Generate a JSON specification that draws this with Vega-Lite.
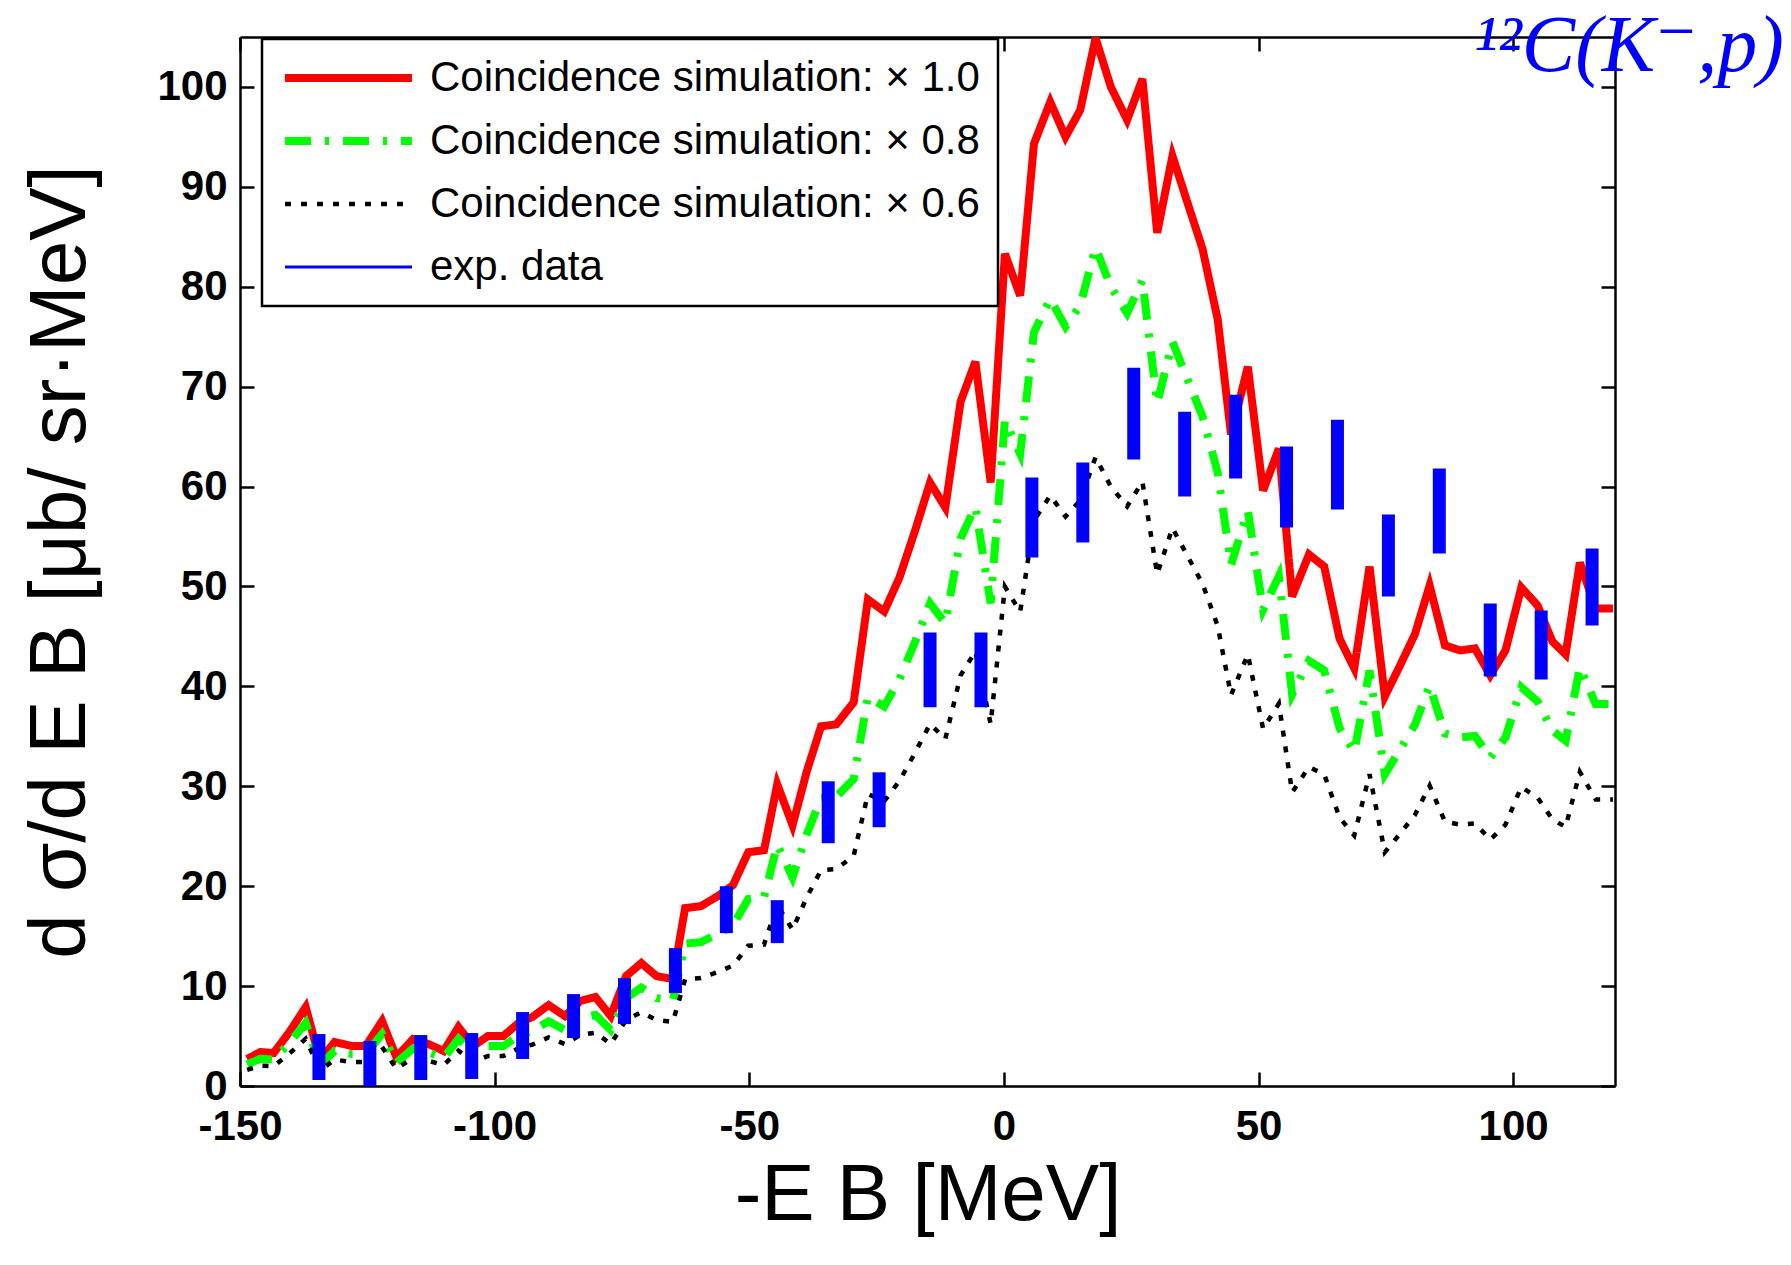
{
  "$schema": "https://vega.github.io/schema/vega-lite/v6.json",
  "width": 1375,
  "height": 1049,
  "autosize": {"type": "none"},
  "padding": {"left": 240, "top": 37, "right": 176, "bottom": 179},
  "background": "white",
  "config": {
    "view": {"stroke": null},
    "font": "Liberation Sans",
    "legend": {
      "fillColor": "white",
      "strokeColor": "black",
      "strokeWidth": 2.5,
      "cornerRadius": 0,
      "padding": 18,
      "symbolType": "stroke",
      "symbolSize": 16129,
      "symbolOffset": 1,
      "clipHeight": 42,
      "rowPadding": 21,
      "labelOffset": 14,
      "labelFont": "Liberation Sans",
      "labelFontSize": 42,
      "labelFontWeight": "normal",
      "labelColor": "black",
      "labelLimit": 1000,
      "labelBaseline": "middle"
    }
  },
  "title": {
    "text": "¹²C(K⁻,p)",
    "orient": "top",
    "anchor": "end",
    "frame": "group",
    "offset": -74,
    "baseline": "alphabetic",
    "dx": 169,
    "dy": 41,
    "font": "Liberation Serif, DejaVu Serif",
    "fontStyle": "italic",
    "fontWeight": "normal",
    "fontSize": 80,
    "color": "#0000ff"
  },
  "datasets": {
    "sim": [
      {"x": -148.6, "s10": 2.7, "s08": 2.16, "s06": 1.62},
      {"x": -146.0, "s10": 3.4, "s08": 2.72, "s06": 2.04},
      {"x": -143.4, "s10": 3.3, "s08": 2.64, "s06": 1.98},
      {"x": -140.3, "s10": 5.4, "s08": 4.32, "s06": 3.24},
      {"x": -137.1, "s10": 7.9, "s08": 6.32, "s06": 4.74},
      {"x": -134.3, "s10": 2.6, "s08": 2.08, "s06": 1.56},
      {"x": -131.4, "s10": 4.4, "s08": 3.52, "s06": 2.64},
      {"x": -128.0, "s10": 4.0, "s08": 3.2, "s06": 2.4},
      {"x": -125.3, "s10": 4.0, "s08": 3.2, "s06": 2.4},
      {"x": -122.1, "s10": 6.5, "s08": 5.2, "s06": 3.9},
      {"x": -119.3, "s10": 2.9, "s08": 2.32, "s06": 1.74},
      {"x": -116.0, "s10": 4.7, "s08": 3.76, "s06": 2.82},
      {"x": -113.0, "s10": 4.2, "s08": 3.36, "s06": 2.52},
      {"x": -110.0, "s10": 3.5, "s08": 2.8, "s06": 2.1},
      {"x": -107.1, "s10": 5.9, "s08": 4.72, "s06": 3.54},
      {"x": -104.2, "s10": 4.0, "s08": 3.2, "s06": 2.4},
      {"x": -101.3, "s10": 5.0, "s08": 4.0, "s06": 3.0},
      {"x": -98.3, "s10": 5.0, "s08": 4.0, "s06": 3.0},
      {"x": -95.3, "s10": 6.3, "s08": 5.04, "s06": 3.78},
      {"x": -92.6, "s10": 6.9, "s08": 5.52, "s06": 4.14},
      {"x": -89.4, "s10": 8.1, "s08": 6.48, "s06": 4.86},
      {"x": -86.2, "s10": 7.0, "s08": 5.6, "s06": 4.2},
      {"x": -83.2, "s10": 8.5, "s08": 6.8, "s06": 5.1},
      {"x": -80.2, "s10": 8.9, "s08": 7.12, "s06": 5.34},
      {"x": -77.2, "s10": 7.0, "s08": 5.6, "s06": 4.2},
      {"x": -74.2, "s10": 11.0, "s08": 8.8, "s06": 6.6},
      {"x": -71.2, "s10": 12.3, "s08": 9.84, "s06": 7.38},
      {"x": -68.2, "s10": 11.0, "s08": 8.8, "s06": 6.6},
      {"x": -65.0, "s10": 10.7, "s08": 8.56, "s06": 6.42},
      {"x": -62.6, "s10": 17.8, "s08": 14.24, "s06": 10.68},
      {"x": -59.5, "s10": 18.0, "s08": 14.4, "s06": 10.8},
      {"x": -56.2, "s10": 19.0, "s08": 15.2, "s06": 11.4},
      {"x": -53.2, "s10": 20.1, "s08": 16.08, "s06": 12.06},
      {"x": -50.2, "s10": 23.4, "s08": 18.72, "s06": 14.04},
      {"x": -47.1, "s10": 23.6, "s08": 18.88, "s06": 14.16},
      {"x": -44.5, "s10": 30.2, "s08": 24.16, "s06": 18.12},
      {"x": -41.5, "s10": 26.1, "s08": 20.88, "s06": 15.66},
      {"x": -38.7, "s10": 31.5, "s08": 25.2, "s06": 18.9},
      {"x": -35.9, "s10": 36.0, "s08": 28.8, "s06": 21.6},
      {"x": -32.9, "s10": 36.2, "s08": 28.96, "s06": 21.72},
      {"x": -29.5, "s10": 38.4, "s08": 30.72, "s06": 23.04},
      {"x": -26.7, "s10": 48.7, "s08": 38.96, "s06": 29.22},
      {"x": -23.5, "s10": 47.5, "s08": 38.0, "s06": 28.5},
      {"x": -20.5, "s10": 50.9, "s08": 40.72, "s06": 30.54},
      {"x": -17.5, "s10": 55.5, "s08": 44.4, "s06": 33.3},
      {"x": -14.5, "s10": 60.4, "s08": 48.32, "s06": 36.24},
      {"x": -11.5, "s10": 57.9, "s08": 46.32, "s06": 34.74},
      {"x": -8.5, "s10": 68.5, "s08": 54.8, "s06": 41.1},
      {"x": -5.6, "s10": 72.5, "s08": 58.0, "s06": 43.5},
      {"x": -2.6, "s10": 60.4, "s08": 48.32, "s06": 36.24},
      {"x": 0.2, "s10": 83.3, "s08": 66.64, "s06": 49.98},
      {"x": 3.2, "s10": 79.1, "s08": 63.28, "s06": 47.46},
      {"x": 5.9, "s10": 94.3, "s08": 75.44, "s06": 56.58},
      {"x": 9.1, "s10": 98.5, "s08": 78.8, "s06": 59.1},
      {"x": 12.1, "s10": 95.0, "s08": 76.0, "s06": 57.0},
      {"x": 15.0, "s10": 97.7, "s08": 78.16, "s06": 58.62},
      {"x": 18.0, "s10": 104.9, "s08": 83.92, "s06": 62.94},
      {"x": 21.0, "s10": 100.0, "s08": 80.0, "s06": 60.0},
      {"x": 24.2, "s10": 96.7, "s08": 77.36, "s06": 58.02},
      {"x": 27.2, "s10": 100.8, "s08": 80.64, "s06": 60.48},
      {"x": 30.1, "s10": 85.4, "s08": 68.32, "s06": 51.24},
      {"x": 33.1, "s10": 93.1, "s08": 74.48, "s06": 55.86},
      {"x": 36.0, "s10": 88.5, "s08": 70.8, "s06": 53.1},
      {"x": 39.0, "s10": 83.8, "s08": 67.04, "s06": 50.28},
      {"x": 42.0, "s10": 76.7, "s08": 61.36, "s06": 46.02},
      {"x": 44.6, "s10": 65.2, "s08": 52.16, "s06": 39.12},
      {"x": 47.9, "s10": 72.0, "s08": 57.6, "s06": 43.2},
      {"x": 50.9, "s10": 59.6, "s08": 47.68, "s06": 35.76},
      {"x": 54.0, "s10": 63.8, "s08": 51.04, "s06": 38.28},
      {"x": 56.6, "s10": 49.0, "s08": 39.2, "s06": 29.4},
      {"x": 59.9, "s10": 53.2, "s08": 42.56, "s06": 31.92},
      {"x": 62.9, "s10": 52.0, "s08": 41.6, "s06": 31.2},
      {"x": 65.9, "s10": 44.8, "s08": 35.84, "s06": 26.88},
      {"x": 68.8, "s10": 41.8, "s08": 33.44, "s06": 25.08},
      {"x": 71.8, "s10": 52.0, "s08": 41.6, "s06": 31.2},
      {"x": 74.8, "s10": 39.0, "s08": 31.2, "s06": 23.4},
      {"x": 77.7, "s10": 42.0, "s08": 33.6, "s06": 25.2},
      {"x": 80.7, "s10": 45.2, "s08": 36.16, "s06": 27.12},
      {"x": 83.6, "s10": 50.1, "s08": 40.08, "s06": 30.06},
      {"x": 86.6, "s10": 44.1, "s08": 35.28, "s06": 26.46},
      {"x": 89.6, "s10": 43.6, "s08": 34.88, "s06": 26.16},
      {"x": 92.5, "s10": 43.8, "s08": 35.04, "s06": 26.28},
      {"x": 95.5, "s10": 41.1, "s08": 32.88, "s06": 24.66},
      {"x": 98.5, "s10": 43.6, "s08": 34.88, "s06": 26.16},
      {"x": 101.6, "s10": 49.9, "s08": 39.92, "s06": 29.94},
      {"x": 104.8, "s10": 48.1, "s08": 38.48, "s06": 28.86},
      {"x": 107.7, "s10": 44.5, "s08": 35.6, "s06": 26.7},
      {"x": 110.3, "s10": 43.2, "s08": 34.56, "s06": 25.92},
      {"x": 113.1, "s10": 52.4, "s08": 41.92, "s06": 31.44},
      {"x": 116.2, "s10": 47.8, "s08": 38.24, "s06": 28.68},
      {"x": 119.6, "s10": 47.8, "s08": 38.24, "s06": 28.68}
    ],
    "exp": [
      {"x": -134.5, "lo": 0.6, "hi": 5.2},
      {"x": -124.5, "lo": -0.5, "hi": 4.5},
      {"x": -114.5, "lo": 0.6, "hi": 5.1},
      {"x": -104.5, "lo": 0.7, "hi": 5.3},
      {"x": -94.5, "lo": 2.7, "hi": 7.4},
      {"x": -84.5, "lo": 4.8, "hi": 9.2},
      {"x": -74.5, "lo": 6.2, "hi": 10.8},
      {"x": -64.5, "lo": 9.3, "hi": 13.8},
      {"x": -54.5, "lo": 15.3, "hi": 20.0},
      {"x": -44.5, "lo": 14.3, "hi": 18.6},
      {"x": -34.5, "lo": 24.3, "hi": 30.5},
      {"x": -24.5, "lo": 25.9, "hi": 31.4},
      {"x": -14.5, "lo": 37.9, "hi": 45.4},
      {"x": -4.5, "lo": 37.9, "hi": 45.4},
      {"x": 5.5, "lo": 52.9, "hi": 60.9},
      {"x": 15.5, "lo": 54.4, "hi": 62.4},
      {"x": 25.5, "lo": 62.7, "hi": 71.9},
      {"x": 35.5, "lo": 59.0, "hi": 67.5},
      {"x": 45.5, "lo": 60.8, "hi": 69.2},
      {"x": 55.5, "lo": 55.9, "hi": 64.0},
      {"x": 65.5, "lo": 57.7, "hi": 66.7},
      {"x": 75.5, "lo": 49.0, "hi": 57.2},
      {"x": 85.5, "lo": 53.3, "hi": 61.8},
      {"x": 95.5, "lo": 41.0, "hi": 48.3},
      {"x": 105.5, "lo": 40.7, "hi": 47.6},
      {"x": 115.5, "lo": 46.1, "hi": 53.8}
    ]
  },
  "layer": [
    {
      "data": {"name": "sim"},
      "transform": [{"fold": ["s10", "s08", "s06"], "as": ["series", "val"]}],
      "mark": {"type": "line", "clip": true, "strokeCap": "butt"},
      "encoding": {
        "x": {
          "field": "x", "type": "quantitative",
          "scale": {"domain": [-150, 120], "nice": false, "zero": false},
          "axis": {
            "orient": "bottom", "values": [-150, -100, -50, 0, 50, 100],
            "labelExpr": "replace(datum.label, '−', '-')",
            "grid": false, "domain": true, "domainColor": "black", "domainWidth": 2.5,
            "ticks": true, "tickSize": -14, "tickWidth": 2.5, "tickColor": "black",
            "labelFont": "Liberation Sans", "labelFontSize": 42, "labelFontWeight": "bold", "labelColor": "black",
            "labelPadding": 34, "labelFlush": false, "labelOverlap": false,
            "title": "-E B [MeV]", "titleFont": "Liberation Sans", "titleFontSize": 80, "titleFontWeight": "normal",
            "titleColor": "black", "titlePadding": 9
          }
        },
        "y": {
          "field": "val", "type": "quantitative",
          "scale": {"domain": [0, 105], "nice": false, "zero": true},
          "axis": {
            "orient": "left", "values": [0, 10, 20, 30, 40, 50, 60, 70, 80, 90, 100],
            "grid": false, "domain": true, "domainColor": "black", "domainWidth": 2.5,
            "ticks": true, "tickSize": -14, "tickWidth": 2.5, "tickColor": "black",
            "labelFont": "Liberation Sans", "labelFontSize": 42, "labelFontWeight": "bold", "labelColor": "black",
            "labelPadding": 27, "labelFlush": false, "labelOverlap": false,
            "title": "d σ/d E B [μb/ sr·MeV]", "titleFont": "Liberation Sans", "titleFontSize": 80, "titleFontWeight": "normal",
            "titleColor": "black", "titlePadding": 55
          }
        },
        "color": {
          "field": "series", "type": "nominal",
          "scale": {"domain": ["s10", "s08", "s06", "exp"], "range": ["#ff0000", "#00ff00", "#000000", "#0000ff"]},
          "legend": {
            "orient": "none", "legendX": 22, "legendY": 2, "title": null,
            "labelExpr": "datum.value == 's10' ? 'Coincidence simulation: × 1.0' : datum.value == 's08' ? 'Coincidence simulation: × 0.8' : datum.value == 's06' ? 'Coincidence simulation: × 0.6' : 'exp. data'"
          }
        },
        "strokeDash": {
          "field": "series", "type": "nominal",
          "scale": {"domain": ["s10", "s08", "s06", "exp"], "range": [[1, 0], [26, 14, 4, 14], [6, 10], [1, 0]]},
          "legend": {
            "orient": "none", "legendX": 22, "legendY": 2, "title": null,
            "labelExpr": "datum.value == 's10' ? 'Coincidence simulation: × 1.0' : datum.value == 's08' ? 'Coincidence simulation: × 0.8' : datum.value == 's06' ? 'Coincidence simulation: × 0.6' : 'exp. data'"
          }
        },
        "strokeWidth": {
          "field": "series", "type": "nominal",
          "scale": {"type": "ordinal", "domain": ["s10", "s08", "s06", "exp"], "range": [8, 8, 4.5, 3]},
          "legend": {
            "orient": "none", "legendX": 22, "legendY": 2, "title": null,
            "labelExpr": "datum.value == 's10' ? 'Coincidence simulation: × 1.0' : datum.value == 's08' ? 'Coincidence simulation: × 0.8' : datum.value == 's06' ? 'Coincidence simulation: × 0.6' : 'exp. data'"
          }
        }
      }
    },
    {
      "data": {"name": "exp"},
      "mark": {"type": "rule", "clip": true, "strokeCap": "butt", "strokeWidth": 13, "color": "#0000ff"},
      "encoding": {
        "x": {
          "field": "x", "type": "quantitative",
          "axis": {
            "orient": "top", "values": [-150, -100, -50, 0, 50, 100],
            "grid": false, "domain": true, "domainColor": "black", "domainWidth": 2.5,
            "ticks": true, "tickSize": -14, "tickWidth": 2.5, "tickColor": "black",
            "labels": false, "title": null
          }
        },
        "y": {
          "field": "lo", "type": "quantitative",
          "axis": {
            "orient": "right", "values": [0, 10, 20, 30, 40, 50, 60, 70, 80, 90, 100],
            "grid": false, "domain": true, "domainColor": "black", "domainWidth": 2.5,
            "ticks": true, "tickSize": -14, "tickWidth": 2.5, "tickColor": "black",
            "labels": false, "title": null
          }
        },
        "y2": {"field": "hi"}
      }
    }
  ],
  "resolve": {"axis": {"x": "independent", "y": "independent"}}
}
